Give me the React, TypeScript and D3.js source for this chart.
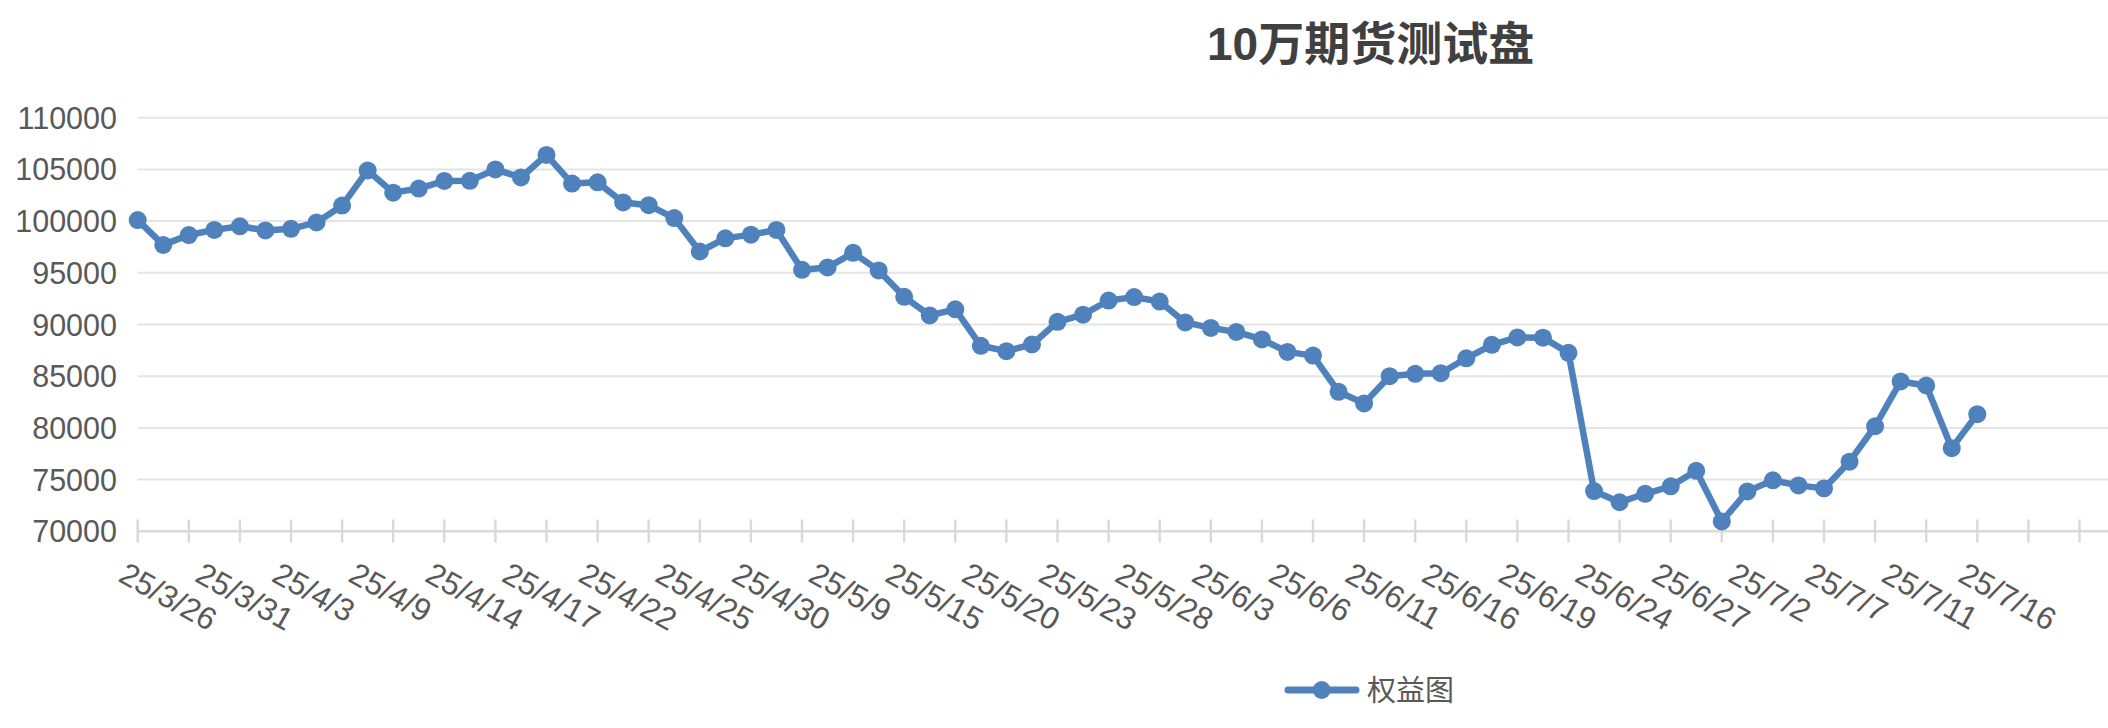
import React from 'react';
import * as d3 from 'd3';

// 카테고리 (날짜)
const dates = [
  '25/3/26', '25/3/27', '25/3/28', '25/3/31', '25/4/1', '25/4/2', '25/4/3', '25/4/7', '25/4/8', '25/4/9',
  '25/4/10', '25/4/11', '25/4/14', '25/4/15', '25/4/16', '25/4/17', '25/4/18', '25/4/21', '25/4/22', '25/4/23',
  '25/4/24', '25/4/25', '25/4/28', '25/4/29', '25/4/30', '25/5/7', '25/5/8', '25/5/9', '25/5/13', '25/5/14',
  '25/5/15', '25/5/16', '25/5/19', '25/5/20', '25/5/21', '25/5/22', '25/5/23', '25/5/26', '25/5/27', '25/5/28',
  '25/5/29', '25/5/30', '25/6/3', '25/6/4', '25/6/5', '25/6/6', '25/6/9', '25/6/10', '25/6/11', '25/6/12',
  '25/6/13', '25/6/16', '25/6/17', '25/6/18', '25/6/19', '25/6/20', '25/6/23', '25/6/24', '25/6/25', '25/6/26',
  '25/6/27', '25/6/30', '25/7/1', '25/7/2', '25/7/3', '25/7/4', '25/7/7', '25/7/8', '25/7/9', '25/7/11',
  '25/7/14', '25/7/15', '25/7/16',
];

// 권익 값
const equity = [
  100100, 97700, 98650, 99150, 99500, 99100, 99250, 99870, 101500, 104900,
  102750, 103150, 103890, 103900, 105000, 104220, 106400, 103630, 103750, 101800,
  101540, 100290, 97060, 98330, 98690, 99150, 95290, 95520, 96930, 95230,
  92680, 90880, 91470, 87940, 87420, 88070, 90260, 90950, 92320, 92650,
  92220, 90200, 89670, 89280, 88560, 87350, 86990, 83490, 82370, 85000,
  85230, 85290, 86730, 88040, 88750, 88730, 87260, 73890, 72810, 73630,
  74350, 75850, 70950, 73860, 74930, 74440, 74150, 76730, 80160, 84490,
  84100, 78040, 81330,
];

const yTicks = [70000, 75000, 80000, 85000, 90000, 95000, 100000, 105000, 110000];

const TITLE = '10万期货测试盘';
const SERIES_NAME = '权益图';

const W = 2108;
const H = 728;
const BLUE = '#4f81bd';
const TEXT = '#595959';
const FONT = '"Liberation Sans", Arial, "Noto Sans CJK SC", sans-serif';

export default function App() {
  const left = 137.7;
  const step = 25.55;
  const x = d3
    .scaleLinear()
    .domain([0, dates.length - 1])
    .range([left, left + step * (dates.length - 1)]);
  const y = d3.scaleLinear().domain([70000, 110000]).range([531.3, 117.7]);

  // 눈금 (2칸마다), 라벨 (3칸마다)
  const lastIdx = Math.floor(x.invert(W));
  const tickIdx = d3.range(0, lastIdx + 1, 2);
  const labelIdx = d3.range(0, dates.length, 3);

  const line = d3
    .line<number>()
    .x((_, i) => x(i))
    .y((d) => y(d));

  return (
    <svg width={W} height={H} style={{ position: 'absolute', left: 0, top: 0, background: '#fff' }}>
      <rect width={W} height={H} fill="#fff" />
      {/* 제목 */}
      <text x={1207} y={59.5} fontFamily={FONT} fontSize={46} fontWeight="bold" fill="#404040">
        {TITLE}
      </text>

      {/* 그리드 */}
      {yTicks.slice(1).map((t) => (
        <line key={t} x1={left} x2={W} y1={y(t)} y2={y(t)} stroke="#e4e4e4" strokeWidth={2} />
      ))}
      {yTicks.map((t) => (
        <text
          key={`l${t}`}
          x={117}
          y={y(t)}
          textAnchor="end"
          dominantBaseline="central"
          fontFamily={FONT}
          fontSize={30.5}
          fill={TEXT}>
          {t}
        </text>
      ))}

      {/* x축 */}
      <line x1={left} x2={W} y1={y(70000)} y2={y(70000)} stroke="#d9d9d9" strokeWidth={2.6} />
      {tickIdx.map((i) => (
        <line key={`t${i}`} x1={x(i)} x2={x(i)} y1={519.5} y2={542.5} stroke="#d9d9d9" strokeWidth={2.4} />
      ))}
      {labelIdx.map((i) => (
        <text
          key={`d${i}`}
          transform={`translate(${x(i) - 20.8},580.6) rotate(29)`}
          fontFamily={FONT}
          fontSize={31.5}
          fill={TEXT}>
          {dates[i]}
        </text>
      ))}

      {/* 시리즈 */}
      <path d={line(equity) as string} fill="none" stroke={BLUE} strokeWidth={6.5} strokeLinejoin="round" />
      {equity.map((v, i) => (
        <circle key={`c${i}`} cx={x(i)} cy={y(v)} r={9} fill={BLUE} />
      ))}

      {/* 범례 */}
      <line x1={1288} x2={1356} y1={690} y2={690} stroke={BLUE} strokeWidth={7} strokeLinecap="round" />
      <circle cx={1321.7} cy={690} r={9} fill={BLUE} />
      <text x={1367} y={691} dominantBaseline="central" fontFamily={FONT} fontSize={29} fill={TEXT}>
        {SERIES_NAME}
      </text>
    </svg>
  );
}
